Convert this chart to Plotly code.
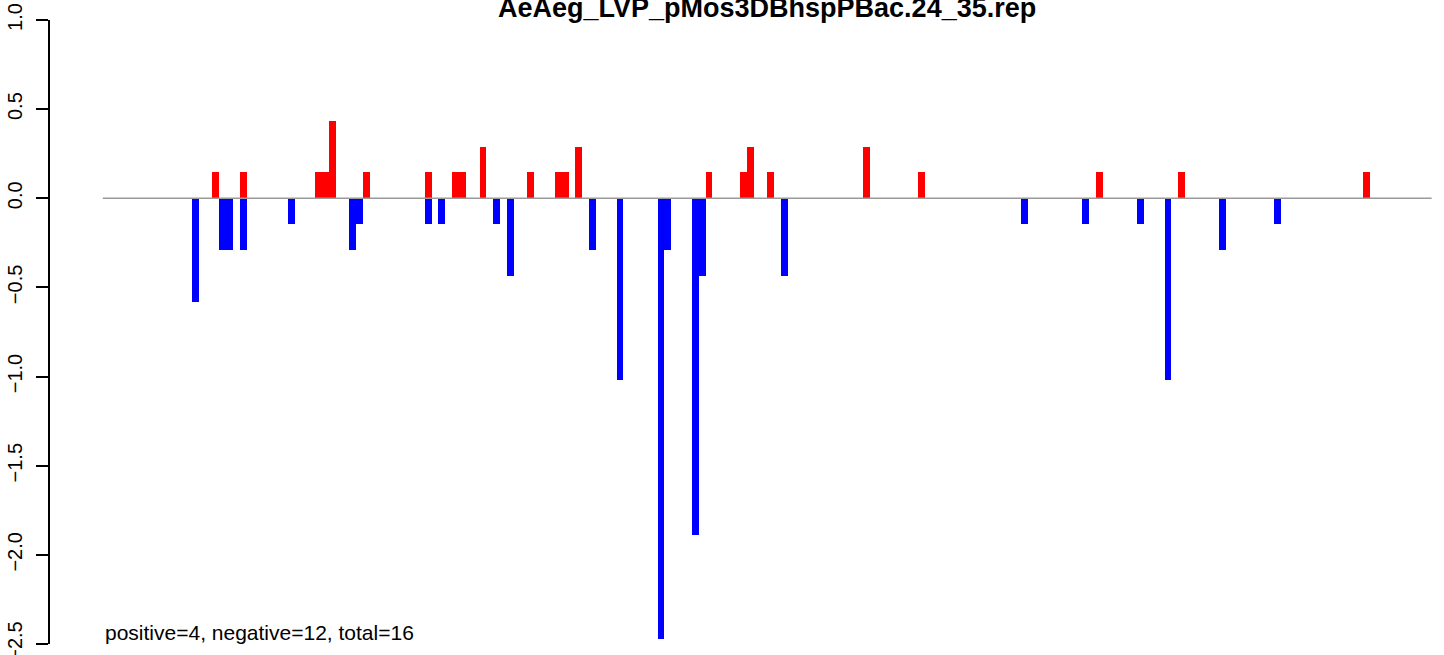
# %%
import plotly.graph_objects as go

# %%
# Scores (one slot per position)

title_text = 'AeAeg_LVP_pMos3DBhspPBac.24_35.rep'
summary_text = 'positive=4, negative=12, total=16'

seq_start = 0.5
seq_end = 194.5

pos_x = [17, 21, 32, 33, 34, 39, 48, 52, 53, 56, 63, 67, 68, 70,
         89, 94, 95, 98, 112, 120, 146, 158, 185]
pos_y = [0.145, 0.145, 0.145, 0.145, 0.435, 0.145, 0.145, 0.145, 0.145, 0.29, 0.145, 0.145, 0.145, 0.29,
         0.145, 0.145, 0.29, 0.145, 0.29, 0.145, 0.145, 0.145, 0.145]

neg_x = [14, 18, 19, 21, 28, 37, 38, 48, 50, 58, 60, 72, 76, 82,
         83, 87, 88, 100, 135, 144, 152, 156, 164, 172]
neg_y = [-0.58, -0.29, -0.29, -0.29, -0.145, -0.29, -0.145, -0.145, -0.145, -0.145, -0.435, -0.29, -1.02, -2.47,
         -0.29, -1.89, -0.435, -0.435, -0.145, -0.145, -0.145, -1.02, -0.29, -0.145]

y_ticks = [1.0, 0.5, 0.0, -0.5, -1.0, -1.5, -2.0, -2.5]

# %%
fig = go.Figure()

# baseline
fig.add_trace(go.Scatter(x=[seq_start, seq_end], y=[0, 0], mode='lines',
                         line=dict(color='#9a9a9a', width=1.5), hoverinfo='skip'))

fig.add_trace(go.Bar(x=pos_x, y=pos_y, width=1, marker=dict(color='red', line=dict(width=0))))
fig.add_trace(go.Bar(x=neg_x, y=neg_y, width=1, marker=dict(color='blue', line=dict(width=0))))

fig.add_annotation(text=summary_text, xref='paper', yref='paper', x=(103 - 50) / 1394, y=0.0,
                   xanchor='left', yanchor='bottom', yshift=-2, showarrow=False,
                   font=dict(family='Liberation Sans, Arial', size=21, color='black'))

# title as annotation so its baseline can sit just above the plot
fig.add_annotation(text='<b>' + title_text + '</b>', xref='paper', yref='paper', x=(767 - 50) / 1394, y=1.0,
                   xanchor='center', yanchor='bottom', yshift=-5, showarrow=False,
                   font=dict(family='Liberation Sans, Arial', size=27, color='black'))

fig.update_layout(
    width=1444, height=655,
    margin=dict(l=50, r=0, t=20, b=11, autoexpand=False),
    paper_bgcolor='white', plot_bgcolor='white',
    showlegend=False, barmode='overlay', bargap=0,
    font=dict(family='Liberation Sans, Arial', size=20, color='black'),
)

fig.update_xaxes(range=[-7.2, 196.3], visible=False, automargin=False)
fig.update_yaxes(range=[-2.5, 1.0], tickvals=y_ticks, tickformat='.1f', tickangle=-90,
                 showline=True, linecolor='black', linewidth=1.5,
                 ticks='outside', ticklen=12, tickwidth=1.5, tickcolor='black',
                 showgrid=False, zeroline=False, ticklabelstandoff=6, automargin=False,
                 ticklabeloverflow='allow',
                 tickfont=dict(family='Liberation Sans, Arial', size=20, color='black'))

# drop the default page margin so the figure sits at the window's corner
fig.write_html('out.html', config={'displayModeBar': False},
               post_script="document.body.style.margin='0';")
